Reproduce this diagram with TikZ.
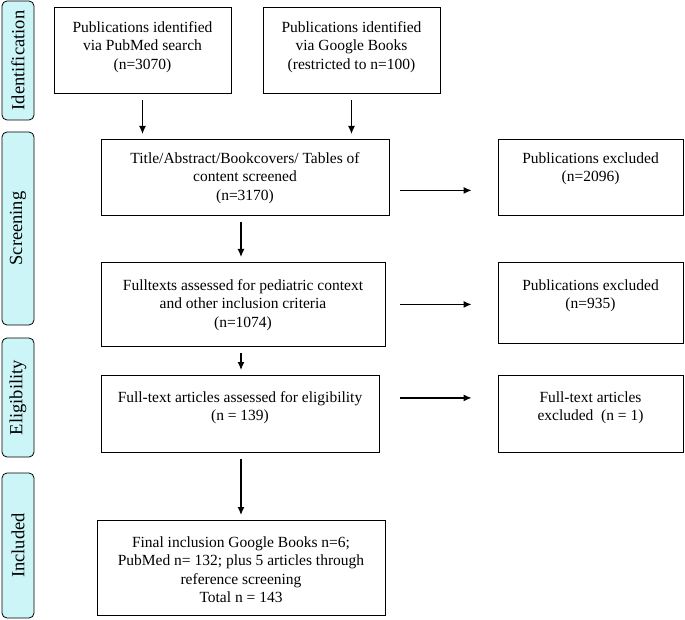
\documentclass[tikz,border=0pt]{standalone}
\usepackage{fontspec}
\setmainfont{Liberation Serif}
\usetikzlibrary{arrows.meta}
\tikzset{box/.style args={#1/#2}{draw, line width=0.8pt, align=center, inner xsep=2pt, inner ysep=0pt, anchor=north, text height=#1pt, text depth=#2pt, font=\fontsize{15.5}{18.5}\selectfont}}
\definecolor{phasecyan}{RGB}{204,245,248}
\tikzset{phase/.style={draw, line width=0.8pt, rounded corners=5pt, fill=phasecyan, rotate=90, minimum height=32pt, inner sep=0pt, font=\fontsize{18.5}{20}\selectfont}}
\tikzset{arrow/.style={line width=1.3pt, -{Latex[length=8pt,width=7pt]}, shorten <=6pt, shorten >=5pt}}
\tikzset{side/.style={arrow, shorten <=11pt, shorten >=26pt}}

\begin{document}
\begin{tikzpicture}[x=1pt,y=-1pt]
\useasboundingbox (0,0) rectangle (685,620);
\node[phase, minimum width=119pt] (ident) at (18,60.5) {Identification};
\node[phase, minimum width=193pt] (screen) at (18,228.5) {Screening};
\node[phase, minimum width=119pt] (elig) at (18,397.5) {Eligibility};
\node[phase, minimum width=145pt] (incl) at (18,545.5) {Included};
\node[box=62/24, minimum width=177pt] (pubmed) at (142.5,7) {Publications identified\\ via PubMed search\\ (n=3070)};
\node[box=62/24, minimum width=177pt] (google) at (351.5,7) {Publications identified\\ via Google Books\\ (restricted to n=100)};
\node[box=61/15, minimum width=288pt] (screened) at (245,139) {Title/Abstract/Bookcovers/ Tables of\\ content screened\\ (n=3170)};
\node[box=42.5/33.5, minimum width=185pt] (excla) at (590.5,139) {Publications excluded\\ (n=2096)};
\node[box=65/19, minimum width=284pt] (fulltext) at (243,262) {Fulltexts assessed for pediatric context\\ and other inclusion criteria\\ (n=1074)};
\node[box=46.5/34.5, minimum width=185pt] (exclb) at (590.5,262) {Publications excluded\\ (n=935)};
\node[box=45.5/31.5, minimum width=278pt] (eligible) at (240,375) {Full-text articles assessed for eligibility\\ (n = 139)};
\node[box=45.5/31.5, minimum width=185pt] (exclc) at (590.5,375) {Full-text articles\\ excluded\ \ (n = 1)};
\node[box=82.5/12.5, minimum width=288pt] (final) at (241,520) {Final inclusion Google Books n=6;\\ PubMed n= 132; plus 5 articles through\\ reference screening\\ Total n = 143};
%\draw[arrow] (ident) -- (screen);
\draw[arrow] (pubmed.south) -- (pubmed.south |- screened.north);
\draw[arrow] (google.south) -- (google.south |- screened.north);
\draw[side] ([yshift=-13pt]screened.east) -- ([yshift=-13pt]screened.east -| excla.west);
\draw[arrow] (final.north |- screened.south) -- (final.north |- fulltext.north);
\draw[side, shorten <=15pt] (fulltext.east) -- (fulltext.east -| exclb.west);
\draw[arrow] (final.north |- fulltext.south) -- (final.north |- eligible.north);
\draw[side, shorten <=21pt] ([yshift=16pt]eligible.east) -- ([yshift=16pt]eligible.east -| exclc.west);
\draw[arrow] (final.north |- eligible.south) -- (final.north);
\end{tikzpicture}
\end{document}
